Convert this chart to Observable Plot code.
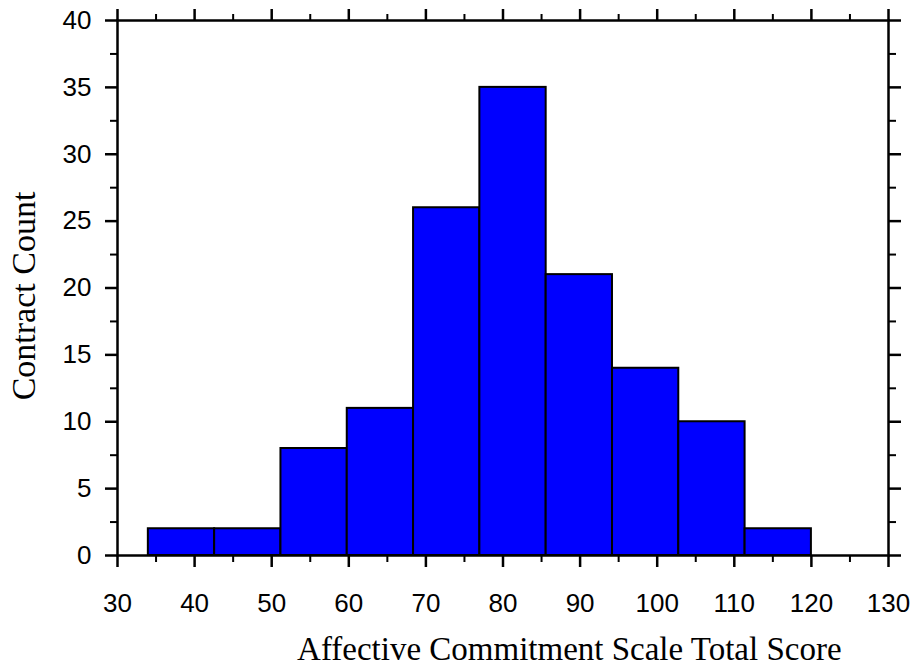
<!DOCTYPE html>
<html>
<head>
<meta charset="utf-8">
<script src="https://cdn.jsdelivr.net/npm/d3@7"></script>
<script src="https://cdn.jsdelivr.net/npm/@observablehq/plot@0.6"></script>
<style>
body { margin: 0; background: #fff; }
#chart { position: relative; width: 918px; height: 671px; }
</style>
</head>
<body>
<div id="chart"></div>
<script>
const binStart = [34, 42.6, 51.2, 59.8, 68.4, 77, 85.6, 94.2, 102.8, 111.4];
const binEnd   = [42.6, 51.2, 59.8, 68.4, 77, 85.6, 94.2, 102.8, 111.4, 120];
const counts   = [2, 2, 8, 11, 26, 35, 21, 14, 10, 2];
const xMajor = [30, 40, 50, 60, 70, 80, 90, 100, 110, 120, 130];
const xMinor = [35, 45, 55, 65, 75, 85, 95, 105, 115, 125];
const yMajor = [0, 5, 10, 15, 20, 25, 30, 35, 40];
const yMinor = [2.5, 7.5, 12.5, 17.5, 22.5, 27.5, 32.5, 37.5];
const xTitle = "Affective Commitment Scale Total Score";
const yTitle = "Contract Count";

const bins = binStart.map((s, i) => ({x1: s, x2: binEnd[i], y: counts[i]}));
const sans = "'Liberation Sans', Arial, sans-serif";
const serif = "'Liberation Serif', 'Times New Roman', serif";

const plot = Plot.plot({
  width: 918,
  height: 671,
  marginLeft: 117,
  marginRight: 30,
  marginTop: 20,
  marginBottom: 116,
  style: {fontFamily: sans, fontSize: "26px", color: "#000", background: "#fff"},
  x: {domain: [30, 130]},
  y: {domain: [0, 40]},
  marks: [
    Plot.rectY(bins, {x1: "x1", x2: "x2", y: "y", fill: "#0000ff", stroke: "#000", strokeWidth: 2}),
    Plot.frame({stroke: "#000", strokeWidth: 2.5}),
    Plot.axisX({ticks: xMajor, tickSize: 12, tickPadding: 26, strokeWidth: 2.5, label: null, tickFormat: d => d, fontSize: 26}),
    Plot.axisX({ticks: xMinor, tickSize: 7, strokeWidth: 2, text: null, label: null}),
    Plot.axisX({anchor: "top", ticks: xMajor, tickSize: 12, strokeWidth: 2.5, text: null, label: null}),
    Plot.axisX({anchor: "top", ticks: xMinor, tickSize: 7, strokeWidth: 2, text: null, label: null}),
    Plot.axisY({ticks: yMajor, tickSize: 12, tickPadding: 14, strokeWidth: 2.5, label: null, tickFormat: d => d, fontSize: 26}),
    Plot.axisY({ticks: yMinor, tickSize: 7, strokeWidth: 2, text: null, label: null}),
    Plot.axisY({anchor: "right", ticks: yMajor, tickSize: 12, strokeWidth: 2.5, text: null, label: null}),
    Plot.axisY({anchor: "right", ticks: yMinor, tickSize: 7, strokeWidth: 2, text: null, label: null}),
    Plot.text([xTitle], {frameAnchor: "bottom", x: () => 88.6, dy: 94, lineAnchor: "middle", textAnchor: "middle", text: d => d, fontFamily: serif, fontSize: 33, fill: "#000"}),
    Plot.text([yTitle], {frameAnchor: "left", dx: -93, dy: 8, rotate: -90, lineAnchor: "middle", textAnchor: "middle", text: d => d, fontFamily: serif, fontSize: 34, fill: "#000"})
  ]
});
document.getElementById("chart").appendChild(plot);
</script>
</body>
</html>
